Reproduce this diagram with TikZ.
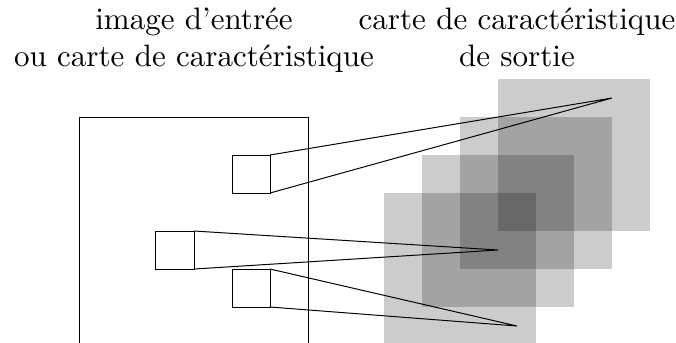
\documentclass[tikz,border=0pt]{standalone}
\begin{document}
\begin{tikzpicture}[x=12.25pt,y=-12.25pt,line width=0.32pt,
  fmap/.style={fill=black,fill opacity=0.2,draw=none},
  patch/.style={draw,minimum size=12.25pt,inner sep=0pt,outer sep=0pt},
  lbl/.style={align=center,inner sep=0pt,anchor=base}]
\useasboundingbox (-2.105,-3.079) rectangle (15.684,5.921);
\clip (-2.105,-3.079) rectangle (15.684,5.921);
% output feature maps
\fill[fmap] (8,2) rectangle (12,6.5);
\fill[fmap] (9,1) rectangle (13,5);
\fill[fmap] (10,0) rectangle (14,4);
\fill[fmap] (11,-1) rectangle (15,3);
% input image
\draw (0,7) -- (0,0) -- (6,0) -- (6,7);
\node[patch] (a) at (4.5,1.5) {};
\node[patch] (b) at (2.5,3.5) {};
\node[patch] (c) at (4.5,4.5) {};
\coordinate (ta) at (14,-0.5);
\coordinate (tb) at (11,3.5);
\coordinate (tc) at (11.5,5.5);
\draw (a.north east) -- (ta) -- (a.south east);
\draw (b.north east) -- (tb) -- (b.south east);
\draw (c.north east) -- (tc) -- (c.south east);
\node[lbl] (l1) at (3,-1.33) {image d'entrée\\ou carte de caractéristique};
\node[lbl] (l2) at (11.5,-1.33) {carte de caractéristique\\de sortie};
\end{tikzpicture}
\end{document}
